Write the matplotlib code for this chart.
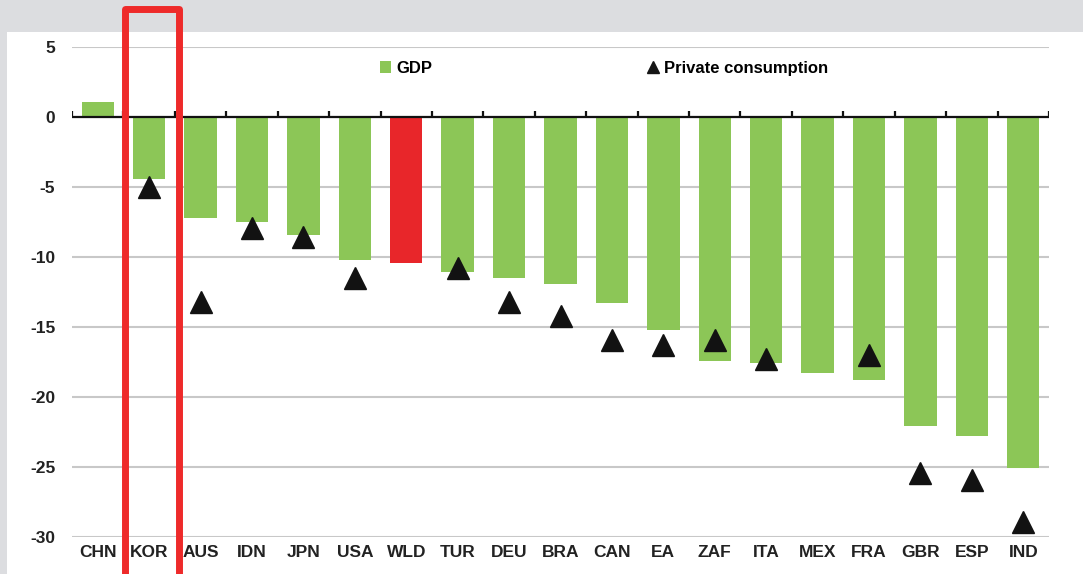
import matplotlib
matplotlib.use("Agg")
import matplotlib.pyplot as plt
from matplotlib.patches import Rectangle, Patch
from matplotlib.lines import Line2D
import matplotlib.transforms as mtransforms
from matplotlib import font_manager

# data
countries = ["CHN", "KOR", "AUS", "IDN", "JPN", "USA", "WLD", "TUR", "DEU", "BRA",
             "CAN", "EA", "ZAF", "ITA", "MEX", "FRA", "GBR", "ESP", "IND"]
gdp = [1.1, -4.4, -7.2, -7.5, -8.4, -10.2, -10.4, -11.1, -11.5, -11.9,
       -13.3, -15.2, -17.4, -17.6, -18.3, -18.8, -22.1, -22.8, -25.1]
consumption = [None, -5.0, -13.2, -7.9, -8.6, -11.5, None, -10.8, -13.2, -14.2,
               -15.9, -16.3, -15.9, -17.3, None, -17.0, -25.4, -25.9, -28.9]
highlight = "WLD"
boxed = "KOR"
yticks = [5, 0, -5, -10, -15, -20, -25, -30]

names = {f.name for f in font_manager.fontManager.ttflist}
fam = ["Liberation Sans Narrow", "Liberation Sans", "DejaVu Sans"]
fam = [f for f in fam if f in names] or ["DejaVu Sans"]
plt.rcParams["font.family"] = fam
plt.rcParams["font.weight"] = "bold"

green = "#8cc657"
red = "#e8262a"
bg = "#dcdde0"

fig = plt.figure(figsize=(10.83, 5.74), dpi=100, facecolor=bg)
W, H = 1083, 574
# white panel behind the chart
fig.patches.append(Rectangle((7 / W, 0), 1, (H - 32) / H, transform=fig.transFigure,
                             facecolor="white", edgecolor="none", zorder=-10))

ax = fig.add_axes([72 / W, (H - 537) / H, (1049 - 72) / W, (537 - 47) / H])
ax.set_facecolor("none")

x = list(range(len(countries)))
colors = [red if c == highlight else green for c in countries]
ax.bar(x, gdp, width=0.63, color=colors, zorder=2)

cx = [i for i, v in enumerate(consumption) if v is not None]
cy = [v for v in consumption if v is not None]
ax.plot(cx, cy, linestyle="none", marker="^", markersize=16, color="#121212",
        zorder=3)

ax.set_xlim(-0.5, len(countries) - 0.5)
ax.set_ylim(-30, 5)
ax.set_yticks(yticks)
ax.set_yticklabels([str(t) for t in yticks])
ax.set_xticks(x)
ax.set_xticklabels(countries)
ax.tick_params(axis="both", length=0, labelsize=12.5, colors="#222222")
ax.tick_params(axis="y", pad=12)
ax.tick_params(axis="x", pad=6)
ax.grid(axis="y", color="#c8c8c8", linewidth=1.5, zorder=1)
for s in ax.spines.values():
    s.set_visible(False)

# zero line with small category ticks
ax.axhline(0, color="#111111", linewidth=1.6, zorder=4)
ax.vlines([i - 0.5 for i in range(len(countries) + 1)], 0, 0.45,
          color="#111111", linewidth=1.6, zorder=4)

handles = [Patch(facecolor=green, edgecolor="none"),
           Line2D([], [], linestyle="none", marker="^", markersize=9, color="#151515")]
ax.legend(handles, ["GDP", "Private consumption"], ncol=2, frameon=False,
          loc="center left", bbox_to_anchor=(0.308, 0.957), fontsize=12,
          handlelength=0.7, handleheight=0.7, handletextpad=0.3,
          columnspacing=12.9, borderaxespad=0)

# red frame around the boxed country
k = countries.index(boxed)
trans = mtransforms.blended_transform_factory(ax.transData, fig.transFigure)
box = Rectangle((k - 0.46, -0.1), 1.05, 1.1 - 8.5 / H,
                transform=trans, facecolor="none", edgecolor="#ee2a2a",
                linewidth=5, joinstyle="round", clip_on=False, zorder=10)
fig.patches.append(box)

fig.savefig("out.png", dpi=100, facecolor=bg)
